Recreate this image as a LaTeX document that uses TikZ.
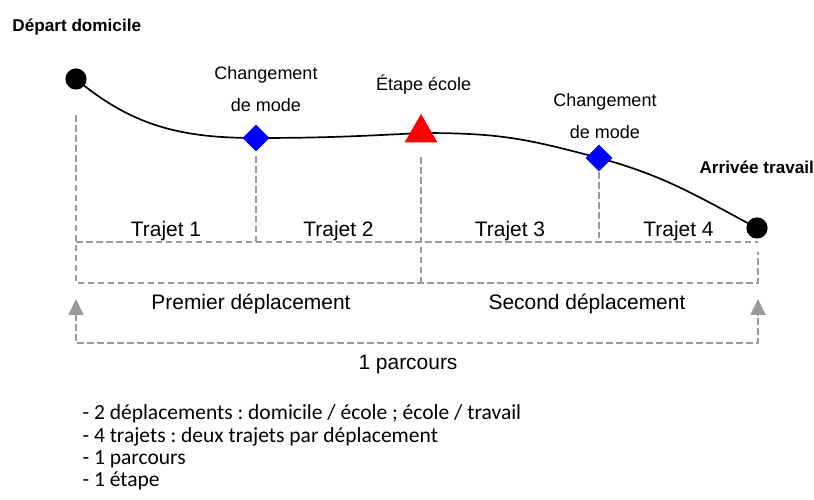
\documentclass[tikz,border=0pt]{standalone}
\usepackage{fontspec}
\setmainfont{Liberation Sans}
\newfontfamily\notefont{Carlito}
\usetikzlibrary{shapes.geometric,arrows.meta}
\definecolor{guidegray}{HTML}{9A9A9A}
\frenchspacing
\begin{document}
\begin{tikzpicture}[thick,
	guide/.style={draw=guidegray, line width=1.4pt, dash pattern=on 4.7pt off 2.4pt},
	endpoint/.style={circle, fill=black, inner sep=0pt, minimum size=0.53cm},
	modechange/.style={diamond, fill=blue, inner sep=0pt, minimum size=0.68cm},
	stopover/.style={regular polygon, regular polygon sides=3, fill=red, inner sep=0pt, minimum size=0.95cm},
	smalltxt/.style={font=\fontsize{12.8}{22.7}\selectfont, align=center},
	bigtxt/.style={font=\fontsize{14.9}{17}\selectfont, anchor=base},
	placetxt/.style={font=\bfseries\fontsize{12.2}{14}\selectfont, anchor=base}]
	\useasboundingbox (0,0) rectangle (20.35,12.5);
	% points of the route
	\coordinate (start) at (1.9,10.525);
	\coordinate (mode1) at (6.4,9.05);
	\coordinate (school) at (10.525,9.175);
	\coordinate (mode2) at (14.975,8.55);
	\coordinate (finish) at (18.925,6.8);
	\draw[line width=1.2pt] (start) to[out=-40,in=180] (mode1) to[out=0,in=183] (school)
		to[out=0,in=165,looseness=1.1] (mode2) to[out=-15,in=152] (finish);
	\node[endpoint] (dep) at (start) {};
	\node[modechange] (chg1) at (mode1) {};
	\node[stopover] (ecole) at (school) {};
	\node[modechange] (chg2) at (mode2) {};
	\node[endpoint] (arr) at (finish) {};
	
	\node[placetxt, anchor=base west] (deplab) at (0.18,11.71) {Départ domicile};
	\node[smalltxt] (chg1lab) at (6.65,10.275) {Changement\\de mode};
	\node[smalltxt, anchor=base] (ecolelab) at (10.59,10.225) {Étape école};
	\node[smalltxt] (chg2lab) at (15.125,9.6) {Changement\\de mode};
	\node[placetxt] (arrlab) at (18.92,8.17) {Arrivée travail};
	
	% trips
	\coordinate (top) at (1.9,9.625);
	\coordinate (bl) at (1.9,5.425);
	\coordinate (br) at (18.95,5.425);
	\draw[guide] (top) -- (bl) -- (br) -- (18.95,6.2);
	\draw[guide] (1.9,6.45) -- (18.95,6.45);
	\foreach \x/\y in {6.4/8.6, 14.975/8.2}
	\draw[guide] (\x,\y) -- (\x,6.45);
	\draw[guide] (10.525,8.575) -- (10.525,5.425);
	\foreach \x [count=\i] in {4.15, 8.4625, 12.75, 16.9625}
	\node[bigtxt] (trajet\i) at (\x,6.575) {Trajet \i};
	
	% displacements
	\node[bigtxt] (dep1) at (6.275,4.75) {Premier déplacement};
	\node[bigtxt] (dep2) at (14.675,4.75) {Second déplacement};
	
	% whole journey
	\coordinate (ptl) at (1.9,5.025);
	\coordinate (ptr) at (18.95,5.025);
	\draw[guide, {Triangle[length=0.4cm,width=0.375cm]}-{Triangle[length=0.4cm,width=0.375cm]}]
		(ptl) -- (1.9,3.925) -- (18.95,3.925) -- (ptr);
	\node[bigtxt] (parcours) at (10.2,3.2625) {1 parcours};
	
	% notes
	\foreach \t/\y [count=\i] in {{- 2 déplacements : domicile / école ; école / travail}/2.0,
		{- 4 trajets : deux trajets par déplacement}/1.4425,
		{- 1 parcours}/0.8825, {- 1 étape}/0.325}
	\node[font=\notefont\fontsize{15.3}{18}\selectfont, anchor=base west, inner sep=0pt] (note\i) at (2.05,\y) {\t};
\end{tikzpicture}
\end{document}
